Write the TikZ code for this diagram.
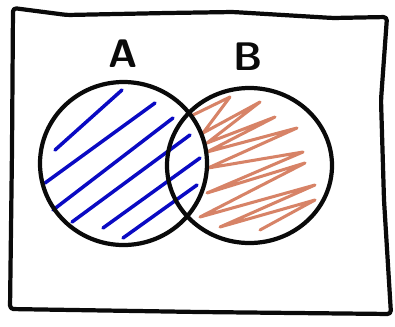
\documentclass[tikz,border=0pt]{standalone}
\usepackage{tikz}
\definecolor{penblack}{RGB}{10,10,10}
\definecolor{hatchblue}{RGB}{10,10,195}
\definecolor{scribbleorange}{RGB}{205,100,65}
\tikzset{
  penline/.style={draw=penblack,line width=3.6pt,line cap=round,line join=round},
  bluehatch/.style={draw=hatchblue,line width=3pt,line cap=round},
  orangescribble/.style={draw=scribbleorange,line width=2.6pt,line cap=round,line join=round,opacity=0.8},
  letter/.style={font=\fontsize{34}{38}\selectfont\sffamily\bfseries,text=penblack,inner sep=0pt}
}
\begin{document}
\begin{tikzpicture}[x=0.03cm,y=-0.03cm]
  \useasboundingbox (0,0) rectangle (395,326);

  %% frame
  \draw[penline,rounded corners=3pt] (13,8) -- (67,15) -- (167,13) -- (233,12) -- (333,18) -- (387,17)
    -- (381,100) -- (384,200) -- (391,314) -- (200,312) -- (10,309) -- (12,150) -- cycle;

  %% hatching of A
  \foreach \xa/\ya/\xb/\yb in {55/150/122/90, 45/183/155/103, 53/210/173/118,
                               72/222/190/135, 103/228/200/158, 123/238/197/185}
    \draw[bluehatch] (\xa,\ya) -- (\xb,\yb);

  %% scribble of B
  \draw[orangescribble] (193,115) -- (230,97) -- (203,133) -- (260,102) -- (207,143)
    -- (275,117) -- (207,152) -- (297,128) -- (208,168) -- (303,152) -- (207,193)
    -- (305,163) -- (200,217) -- (315,185) -- (220,227) -- (315,200) -- (260,230);

  %% circles
  \draw[penline] (123.5,163.5) ellipse [x radius=83.5, y radius=81.5];
  \draw[penline] (249.5,165.5) ellipse [x radius=82.5, y radius=77.5];

  %% labels
  \node[letter] (labA) at (123,54) {A};
  \node[letter] (labB) at (248,57) {B};
\end{tikzpicture}
\end{document}
